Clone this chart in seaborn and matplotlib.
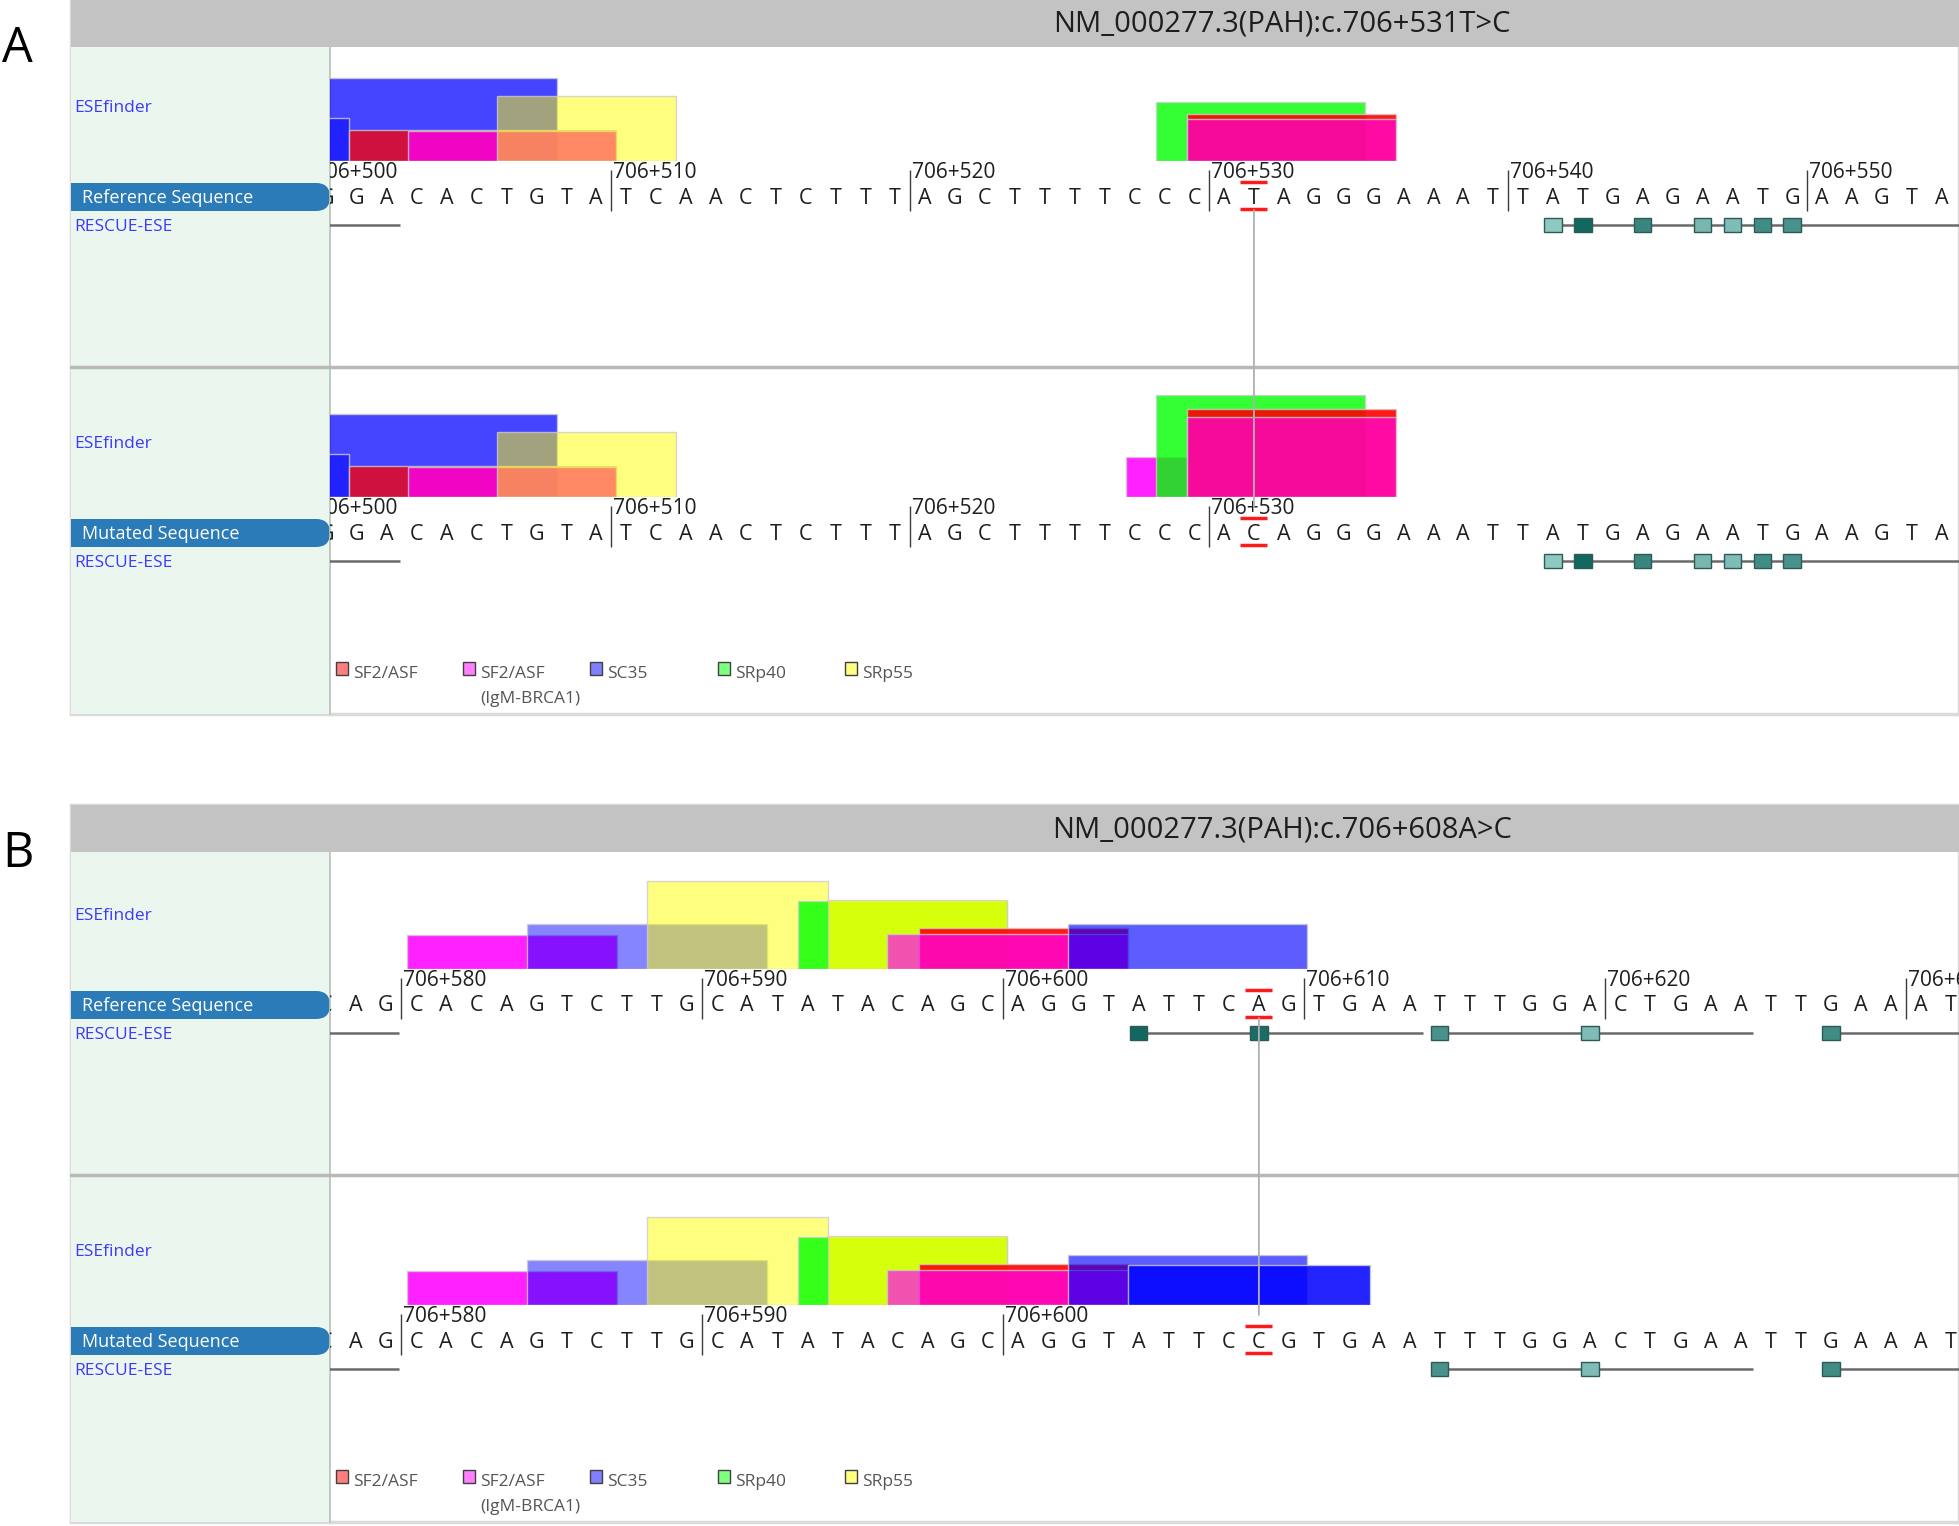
import matplotlib
matplotlib.use("Agg")
import numpy as np
import pandas as pd
import matplotlib.pyplot as plt
import seaborn as sns
from matplotlib.colors import to_rgba
from matplotlib.patches import Rectangle, FancyBboxPatch, ConnectionPatch

sns.set_theme(style="white")
plt.rcParams['font.family'] = ['Open Sans', 'DejaVu Sans']

# ----------------------------
# Data
# ----------------------------
FACTORS = ["SF2/ASF", "SF2/ASF (IgM-BRCA1)", "SC35", "SRp40", "SRp55"]
FACTOR_COLORS = ["#ff0000", "#ff00ff", "#0000ff", "#00ff00", "#ffff00"]

# panel A : c.706+531T>C
A_TITLE = "NM_000277.3(PAH):c.706+531T>C"
A_SEQ_START = 500
A_REF_SEQ = "GGACACTGTATCAACTCTTTAGCTTTTCCCATAGGGAAATTATGAGAATGAAGTA"
A_MUT_SEQ = "GGACACTGTATCAACTCTTTAGCTTTTCCCACAGGGAAATTATGAGAATGAAGTA"
A_MUT_POS = 531
A_REF_TICKS = [500, 510, 520, 530, 540, 550]
A_MUT_TICKS = [500, 510, 520, 530]

A_REF_FACTOR = ["SC35", "SC35", "SF2/ASF", "SF2/ASF (IgM-BRCA1)", "SRp55",
                "SRp40", "SF2/ASF", "SF2/ASF (IgM-BRCA1)"]
A_REF_START = [500.2, 499.0, 501.25, 503.2, 506.17, 528.23, 529.26, 529.26]
A_REF_END = [508.19, 501.25, 510.17, 510.17, 512.18, 535.22, 536.24, 536.24]
A_REF_SCORE = [4.15, 2.15, 1.55, 1.5, 3.25, 2.95, 2.35, 2.1]

A_MUT_FACTOR = ["SC35", "SC35", "SF2/ASF", "SF2/ASF (IgM-BRCA1)", "SRp55",
                "SF2/ASF (IgM-BRCA1)", "SRp40", "SF2/ASF", "SF2/ASF (IgM-BRCA1)"]
A_MUT_START = [500.2, 499.0, 501.25, 503.2, 506.17, 527.23, 528.23, 529.26, 529.26]
A_MUT_END = [508.19, 501.25, 510.17, 510.17, 512.18, 529.26, 535.22, 536.24, 536.24]
A_MUT_SCORE = [4.15, 2.15, 1.55, 1.5, 3.25, 2.0, 5.08, 4.42, 4.0]

A_RESCUE_POS = [541, 542, 544, 546, 547, 548, 549]
A_RESCUE_SCORE = [0.15, 0.95, 0.7, 0.3, 0.25, 0.65, 0.6]
A_RESCUE_SEGMENTS = [(499.0, 502.94), (541.5, 556.0)]

# panel B : c.706+608A>C
B_TITLE = "NM_000277.3(PAH):c.706+608A>C"
B_SEQ_START = 577
B_REF_SEQ = "CAGCACAGTCTTGCATATACAGCAGGTATTCAGTGAATTTGGACTGAATTGAAAT"
B_MUT_SEQ = "CAGCACAGTCTTGCATATACAGCAGGTATTCCGTGAATTTGGACTGAATTGAAAT"
B_MUT_POS = 608
B_REF_TICKS = [580, 590, 600, 610, 620, 630]
B_MUT_TICKS = [580, 590, 600]

B_REF_FACTOR = ["SF2/ASF (IgM-BRCA1)", "SC35", "SRp55", "SRp40", "SRp55",
                "SF2/ASF", "SF2/ASF (IgM-BRCA1)", "SC35"]
B_REF_START = [580.21, 584.17, 588.17, 593.18, 594.17, 597.2, 596.16, 602.17]
B_REF_END = [587.19, 592.16, 594.17, 600.12, 600.12, 604.15, 604.15, 610.10]
B_REF_SCORE = [1.7, 2.24, 4.4, 3.4, 3.45, 2.07, 1.75, 2.24]

B_MUT_FACTOR = B_REF_FACTOR[:7] + ["SC35", "SC35"]
B_MUT_START = B_REF_START[:7] + [602.17, 604.16]
B_MUT_END = B_REF_END[:7] + [610.10, 612.19]
B_MUT_SCORE = B_REF_SCORE[:7] + [2.52, 2.0]

B_REF_RESCUE_POS = [604, 608, 614, 619, 627]
B_REF_RESCUE_SCORE = [0.95, 0.9, 0.6, 0.25, 0.65]
B_REF_RESCUE_SEGMENTS = [(577.0, 579.92), (604.5, 613.95), (614.5, 624.9), (627.5, 633.0)]
B_MUT_RESCUE_POS = [614, 619, 627]
B_MUT_RESCUE_SCORE = [0.6, 0.25, 0.65]
B_MUT_RESCUE_SEGMENTS = [(577.0, 579.92), (614.5, 624.9), (627.5, 633.0)]

# ----------------------------
# Style
# ----------------------------
A_REF_ALPHA = [0.73, 0.5, 0.75, 0.7, 0.5, 0.8, 0.9, 0.6]
A_MUT_ALPHA = [0.73, 0.5, 0.75, 0.7, 0.5, 0.87, 0.8, 0.9, 0.6]
B_REF_ALPHA = [0.87, 0.48, 0.5, 0.8, 0.8, 0.9, 0.68, 0.64]
B_MUT_ALPHA = B_REF_ALPHA[:7] + [0.64, 0.86]

RESCUE_CMAP = sns.blend_palette(["#a6dad3", "#0b625b"], as_cmap=True)
W, H = 1959, 1526
X_LEFT, X_RIGHT = 330, W
SIDE_BLUE = "#3a3aff"
PILL_BLUE = "#2b7bb9"

fig = plt.figure(figsize=(W / 100, H / 100), dpi=100, facecolor="white")
canvas = fig.add_axes([0, 0, 1, 1])
canvas.set_xlim(0, W)
canvas.set_ylim(H, 0)
canvas.axis("off")


def px_axes(x0, y0, x1, y1):
    ax = fig.add_axes([x0 / W, 1 - y1 / H, (x1 - x0) / W, (y1 - y0) / H])
    ax.set_facecolor("none")
    ax.axis("off")
    return ax


def draw_track(base, xlim, bars, alphas, seq, seq_start, ticks, mut_pos,
               rescue_pos, rescue_score, rescue_segments):
    # ESEfinder bars
    ax_bar = px_axes(X_LEFT, base - 125, X_RIGHT, base)
    ax_bar.set_xlim(*xlim)
    ax_bar.set_ylim(0, 6.25)
    colors = [to_rgba(FACTOR_COLORS[FACTORS.index(f)], a)
              for f, a in zip(bars["factor"], alphas)]
    ax_bar.bar(bars["start"], bars["score"], width=bars["end"] - bars["start"],
               align="edge", color=colors, edgecolor=(0.8, 0.8, 0.8, 0.8), linewidth=1)

    # sequence, ruler, RESCUE-ESE
    ax_seq = px_axes(X_LEFT, base, X_RIGHT, base + 80)
    ax_seq.set_xlim(*xlim)
    ax_seq.set_ylim(80, 0)
    for i, ch in enumerate(seq):
        ax_seq.text(seq_start + i + 0.5, 42.5, ch, ha="center", va="baseline",
                    fontsize=15.5, color="#1e1e1e", clip_on=True)
    ax_seq.vlines(ticks, 9, 50, color="#3c3c3c", lw=1)
    for t in ticks:
        ax_seq.text(t + 0.06, 17.5, f"706+{t}", ha="left", va="baseline",
                    fontsize=15, color="#1e1e1e", clip_on=True)
    ax_seq.hlines([21, 48], mut_pos + 0.05, mut_pos + 0.95, color="#ff1a1a", lw=2.5)
    for s, e in rescue_segments:
        ax_seq.hlines(64, s, e, color="#6a6a6a", lw=1.8, zorder=2)
    ax_seq.bar(np.array(rescue_pos) + 0.5, 14, bottom=57, width=0.58,
               color=RESCUE_CMAP(np.array(rescue_score)), edgecolor="#2d5a55",
               linewidth=1, zorder=3)
    return ax_seq


def draw_panel(label, title, top, base, xlim, tracks, mut_pos):
    mut_base = base + 336
    bottom = mut_base + 217
    canvas.add_patch(Rectangle((71, top), W - 71, bottom - top, fc="white",
                               ec="#dadada", lw=2.5))
    canvas.add_patch(Rectangle((71, top + 47), X_LEFT - 71, bottom - top - 47,
                               fc="#ebf6ee", ec="none"))
    canvas.add_patch(Rectangle((71, top), W - 71, 47, fc="#c3c3c3", ec="none"))
    canvas.plot([X_LEFT, X_LEFT], [top + 47, bottom], color="#b5c2b8", lw=1.2)
    canvas.plot([71, W], [base + 206, base + 206], color="#b8b8b8", lw=2.5)
    canvas.text(1282, top + 32, title, ha="center", va="baseline", fontsize=21,
                color="#1e1e1e")
    canvas.text(2, top + 62, label, ha="left", va="baseline", fontsize=35,
                color="black")

    seq_axes = []
    for b, name, tr in zip([base, mut_base], ["Reference Sequence", "Mutated Sequence"], tracks):
        canvas.text(74, b - 49, "ESEfinder", fontsize=12.5, color=SIDE_BLUE, va="baseline")
        canvas.text(74, b + 70, "RESCUE-ESE", fontsize=12.5, color=SIDE_BLUE, va="baseline")
        canvas.add_patch(FancyBboxPatch((71, b + 22), X_LEFT - 71, 28,
                                        boxstyle="round,pad=0,rounding_size=14",
                                        fc=PILL_BLUE, ec="none"))
        canvas.add_patch(Rectangle((71, b + 22), 40, 28, fc=PILL_BLUE, ec="none"))
        canvas.text(82, b + 42, name, fontsize=13, color="white", va="baseline")
        seq_axes.append(draw_track(b, xlim, **tr))

    # legend
    for i, (f, c) in enumerate(zip(FACTORS, FACTOR_COLORS)):
        x = 336 + i * 127.2
        canvas.add_patch(Rectangle((x, mut_base + 165), 12, 13, fc=to_rgba(c, 0.5),
                                   ec="#404040", lw=1))
        lines = f.replace(" (", "\n(").split("\n")
        canvas.text(x + 17, mut_base + 181, lines[0], fontsize=12.5, color="#555555",
                    va="baseline")
        if len(lines) > 1:
            canvas.text(x + 17, mut_base + 206, lines[1], fontsize=12.5, color="#555555",
                        va="baseline")

    # mutation marker line between both tracks
    con = ConnectionPatch(xyA=(mut_pos + 0.5, 49), coordsA=seq_axes[0].transData,
                          xyB=(mut_pos + 0.5, 10), coordsB=seq_axes[1].transData,
                          color="#b0b0b0", lw=1.3, zorder=5)
    fig.add_artist(con)


def bar_table(factor, start, end, score):
    return pd.DataFrame({"factor": factor, "start": start, "end": end, "score": score})


draw_panel("A", A_TITLE, 0, 161, (500.60, 555.08), [
    dict(bars=bar_table(A_REF_FACTOR, A_REF_START, A_REF_END, A_REF_SCORE), alphas=A_REF_ALPHA,
         seq=A_REF_SEQ, seq_start=A_SEQ_START, ticks=A_REF_TICKS, mut_pos=A_MUT_POS,
         rescue_pos=A_RESCUE_POS, rescue_score=A_RESCUE_SCORE, rescue_segments=A_RESCUE_SEGMENTS),
    dict(bars=bar_table(A_MUT_FACTOR, A_MUT_START, A_MUT_END, A_MUT_SCORE), alphas=A_MUT_ALPHA,
         seq=A_MUT_SEQ, seq_start=A_SEQ_START, ticks=A_MUT_TICKS, mut_pos=A_MUT_POS,
         rescue_pos=A_RESCUE_POS, rescue_score=A_RESCUE_SCORE, rescue_segments=A_RESCUE_SEGMENTS),
], A_MUT_POS)

draw_panel("B", B_TITLE, 805, 969, (577.64, 631.76), [
    dict(bars=bar_table(B_REF_FACTOR, B_REF_START, B_REF_END, B_REF_SCORE), alphas=B_REF_ALPHA,
         seq=B_REF_SEQ, seq_start=B_SEQ_START, ticks=B_REF_TICKS, mut_pos=B_MUT_POS,
         rescue_pos=B_REF_RESCUE_POS, rescue_score=B_REF_RESCUE_SCORE,
         rescue_segments=B_REF_RESCUE_SEGMENTS),
    dict(bars=bar_table(B_MUT_FACTOR, B_MUT_START, B_MUT_END, B_MUT_SCORE), alphas=B_MUT_ALPHA,
         seq=B_MUT_SEQ, seq_start=B_SEQ_START, ticks=B_MUT_TICKS, mut_pos=B_MUT_POS,
         rescue_pos=B_MUT_RESCUE_POS, rescue_score=B_MUT_RESCUE_SCORE,
         rescue_segments=B_MUT_RESCUE_SEGMENTS),
], B_MUT_POS)

fig.savefig("out.png", dpi=100, facecolor="white")
